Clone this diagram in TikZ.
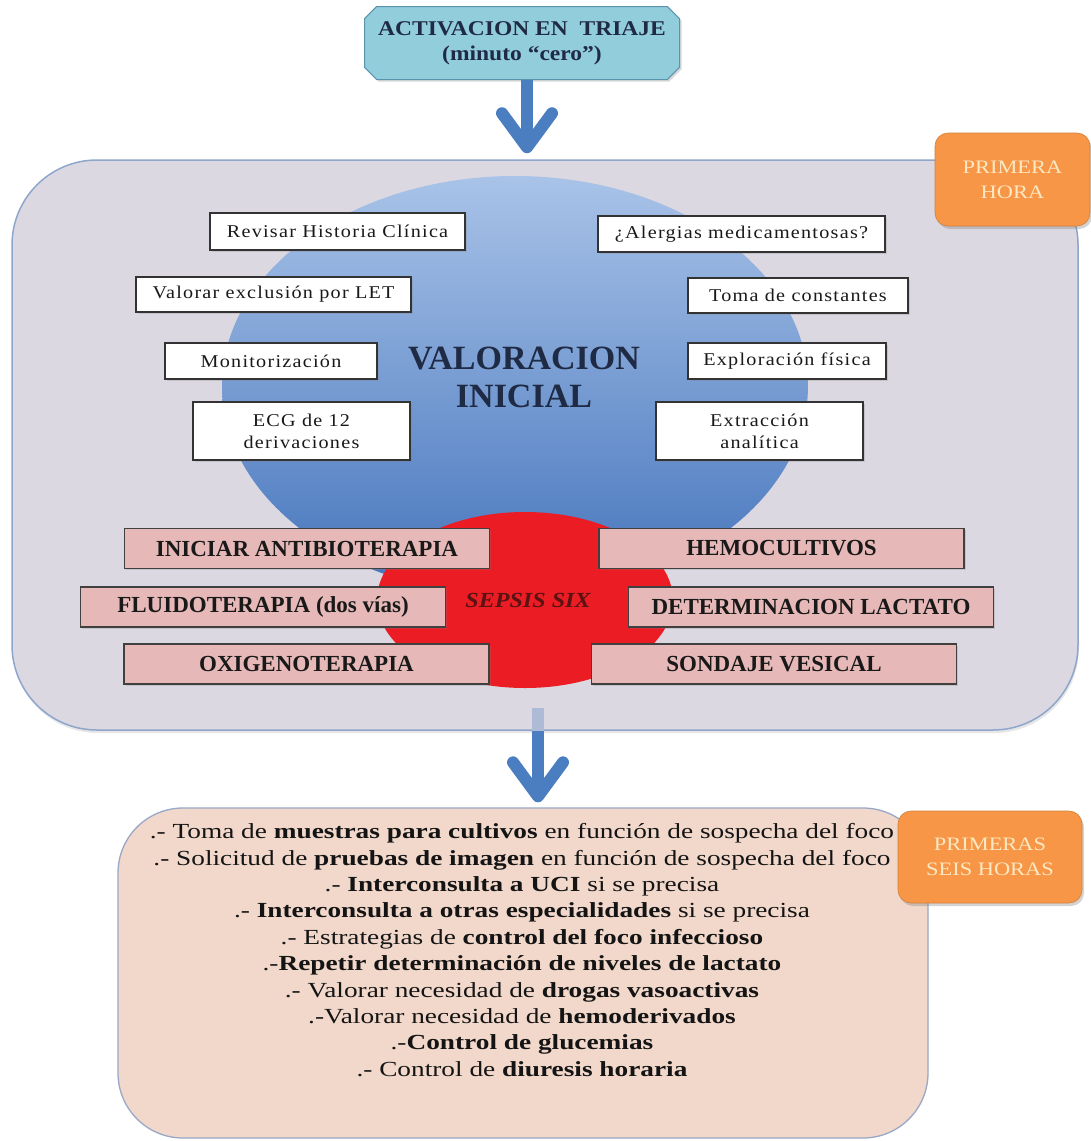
\documentclass[tikz,border=0pt]{standalone}
\usepackage{fontspec}
\setmainfont{Liberation Serif}
\newfontfamily\boxfont[FakeStretch=1.12,LetterSpace=7]{Liberation Serif}
\newfontfamily\tagfont[FakeStretch=1.18]{Liberation Serif}
\newfontfamily\headfont[FakeStretch=1.12]{Liberation Serif}
\newfontfamily\bodyfont[FakeStretch=1.27]{Liberation Serif}
\usetikzlibrary{shapes.misc,shapes.geometric,shadows,arrows.meta}
\definecolor{navy}{HTML}{1F2A44}
\definecolor{triajefill}{HTML}{92CDDC}
\definecolor{triajedraw}{HTML}{5A93AC}
\definecolor{contfill}{HTML}{DCD8E2}
\definecolor{contdraw}{HTML}{8EA6CC}
\definecolor{blueTop}{HTML}{A9C3E8}
\definecolor{blueBot}{HTML}{4474BC}
\definecolor{sepred}{HTML}{EC1C24}
\definecolor{sixtext}{HTML}{5A1212}
\definecolor{pinkfill}{HTML}{E6B9B8}
\definecolor{orangefill}{HTML}{F79646}
\definecolor{creamtext}{HTML}{FCE8C2}
\definecolor{peach}{HTML}{F1D8CB}
\definecolor{peachdraw}{HTML}{98A8C6}
\definecolor{arrowblue}{HTML}{4A7EC0}
\definecolor{arrowfaint}{HTML}{AEBBD6}
\begin{document}
\begin{tikzpicture}[x=1pt,y=-1pt,
  wbox/.style={draw=black!80, line width=1.3pt, fill=white, inner sep=0pt,
    font=\boxfont\fontsize{18}{22}\selectfont, text=black!90, align=center,
    drop shadow={opacity=0.25, shadow xshift=1.5pt, shadow yshift=-1.5pt}},
  pbox/.style={draw=black!75, line width=1.3pt, fill=pinkfill, inner sep=0pt,
    font=\fontsize{23}{26}\selectfont\bfseries, text=black!90,
    minimum width=365pt, minimum height=40pt,
    drop shadow={opacity=0.25, shadow xshift=1.5pt, shadow yshift=-1.5pt}},
  tagbox/.style={fill=orangefill, draw=orangefill!85!black, line width=0.6pt,
    rounded corners=13pt, text=creamtext,
    font=\tagfont\fontsize{19}{25}\selectfont, align=center, inner sep=0pt,
    drop shadow={opacity=0.35, shadow xshift=2pt, shadow yshift=-3pt}},
  bigarrow/.style={arrowblue, line width=12pt,
    -{Straight Barb[length=34pt, width=50pt, round]}},
]
\useasboundingbox (0,0) rectangle (1091,1141);

% top box
\node[chamfered rectangle, chamfered rectangle xsep=9pt, fill=triajefill,
  draw=triajedraw, line width=1pt, minimum width=315pt, minimum height=73pt,
  inner sep=0pt, align=center, text=navy,
  font=\headfont\fontsize{21}{25}\selectfont\bfseries,
  drop shadow={opacity=0.3, shadow xshift=2pt, shadow yshift=-2pt}]
  (triaje) at (522,43) {ACTIVACION EN\ \ TRIAJE\\(minuto “cero”)};

% first hour container
\node[draw=contdraw, fill=contfill, rounded corners=85pt, line width=1.5pt,
  minimum width=1066pt, minimum height=570pt, inner sep=0pt,
  drop shadow={opacity=0.2, shadow xshift=1pt, shadow yshift=-3pt}]
  (hora) at (545,445) {};

% valoracion inicial ellipse
\node[ellipse, top color=blueTop, bottom color=blueBot, minimum width=586pt,
  minimum height=420pt, inner sep=0pt] (valel) at (515,386) {};
% sepsis six ellipse
\node[ellipse, fill=sepred, minimum width=296pt, minimum height=176pt,
  inner sep=0pt] (sep) at (525,600) {};

\node[font=\fontsize{34}{38}\selectfont\bfseries, text=navy, align=center]
  (valtxt) at (524,377) {VALORACION\\INICIAL};

% white boxes
\node[wbox, minimum width=255pt, minimum height=37pt] (rhc) at (337.5,231.5) {Revisar Historia Clínica};
\node[wbox, minimum width=275pt, minimum height=35pt] (let) at (273.5,294.5) {Valorar exclusión por LET};
\node[wbox, minimum width=212pt, minimum height=36pt] (mon) at (271,361) {Monitorización};
\node[wbox, minimum width=217pt, minimum height=58pt] (ecg) at (301.5,431) {ECG de 12\\derivaciones};
\node[wbox, minimum width=287pt, minimum height=36pt] (ale) at (741.5,234) {¿Alergias medicamentosas?};
\node[wbox, minimum width=220pt, minimum height=35pt] (toma) at (798,295.5) {Toma de constantes};
\node[wbox, minimum width=198pt, minimum height=36pt] (expl) at (787,361) {Exploración física};
\node[wbox, minimum width=207pt, minimum height=58pt] (extr) at (759.5,431) {Extracción\\analítica};

% sepsis six boxes
\node[pbox] (atb) at (307,548.5) {INICIAR ANTIBIOTERAPIA};
\node[pbox] (hemo) at (781.5,548.5) {HEMOCULTIVOS};
\node[pbox] (fluido) at (263,607) {FLUIDOTERAPIA (dos vías)};
\node[pbox] (lact) at (811,607) {DETERMINACION LACTATO};
\node[pbox] (oxi) at (306.5,664) {OXIGENOTERAPIA};
\node[pbox] (sond) at (774,664) {SONDAJE VESICAL};
\node[font=\headfont\fontsize{21.5}{24}\selectfont\bfseries\itshape, text=sixtext]
  (sixlbl) at (528,600) {SEPSIS SIX};

% orange tag, first hour
\node[tagbox, minimum width=155pt, minimum height=93pt] (tag1) at (1012.5,179.5) {PRIMERA\\HORA};

% six hours box
\node[draw=peachdraw, fill=peach, rounded corners=65pt, line width=1.3pt,
  minimum width=810pt, minimum height=330pt, inner sep=0pt]
  (seis) at (523,973) {};
\node[font=\bodyfont\fontsize{21.5}{26.4}\selectfont, text=black!92, align=center]
  (seistxt) at (522,950) {%
  .- Toma de \textbf{muestras para cultivos} en función de sospecha del foco\\
  .- Solicitud de \textbf{pruebas de imagen} en función de sospecha del foco\\
  .- \textbf{Interconsulta a UCI} si se precisa\\
  .- \textbf{Interconsulta a otras especialidades} si se precisa\\
  .- Estrategias de \textbf{control del foco infeccioso}\\
  .-\textbf{Repetir determinación de niveles de lactato}\\
  .- Valorar necesidad de \textbf{drogas vasoactivas}\\
  .-Valorar necesidad de \textbf{hemoderivados}\\
  .-\textbf{Control de glucemias}\\
  .- Control de \textbf{diuresis horaria}};
\node[tagbox, font=\tagfont\fontsize{19}{25}\selectfont, minimum width=184pt, minimum height=92pt] (tag2) at (990,857) {PRIMERAS\\SEIS HORAS};

% arrows
\draw[bigarrow] (triaje.south -| 527,0) -- ([yshift=6pt] 527,0 |- hora.north);
\coordinate (a2) at (538,708);
\draw[line width=12pt, arrowfaint] (a2) -- (a2 |- hora.south);
\draw[bigarrow] (a2 |- hora.south) -- ([yshift=5pt] a2 |- seis.north);
\end{tikzpicture}
\end{document}
